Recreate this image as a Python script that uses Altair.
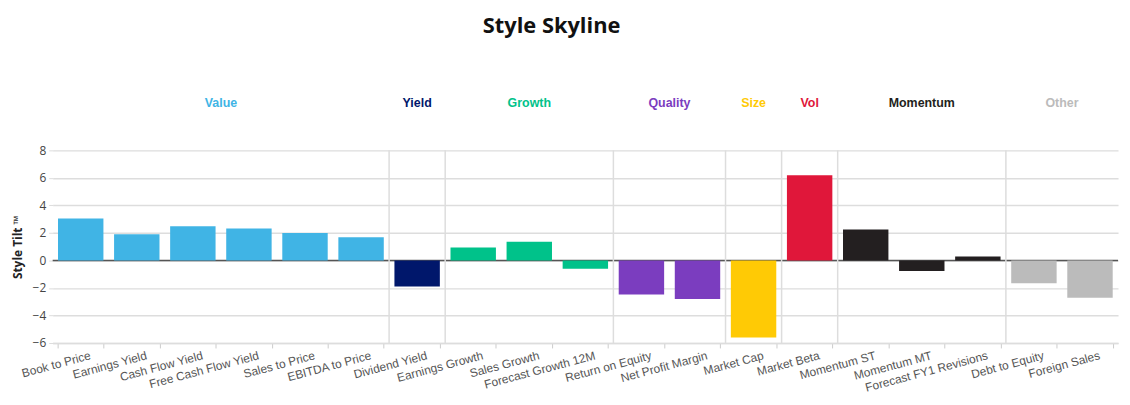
import altair as alt
import pandas as pd

categories = [
    "Book to Price", "Earnings Yield", "Cash Flow Yield", "Free Cash Flow Yield",
    "Sales to Price", "EBITDA to Price", "Dividend Yield", "Earnings Growth",
    "Sales Growth", "Forecast Growth 12M", "Return on Equity", "Net Profit Margin",
    "Market Cap", "Market Beta", "Momentum ST", "Momentum MT",
    "Forecast FY1 Revisions", "Debt to Equity", "Foreign Sales",
]
values = [3.05, 1.9, 2.48, 2.33, 2.0, 1.68, -1.9, 0.94, 1.35, -0.6,
          -2.47, -2.8, -5.6, 6.2, 2.24, -0.77, 0.29, -1.66, -2.71]
groups = ["Value"] * 6 + ["Yield"] + ["Growth"] * 3 + ["Quality"] * 2 + \
         ["Size", "Vol"] + ["Momentum"] * 3 + ["Other"] * 2
group_names = ["Value", "Yield", "Growth", "Quality", "Size", "Vol", "Momentum", "Other"]
group_colors = ["#40B4E5", "#00176B", "#00C28A", "#7B3DBF", "#FFCA05", "#E0173A", "#231F20", "#BBBBBB"]
y_ticks = [-6, -4, -2, 0, 2, 4, 6, 8]

df = pd.DataFrame({"cat": categories, "val": values, "grp": groups})

# group spans (in category units) for separators and labels
starts, ends = [], []
pos = 0
for g in group_names:
    n = groups.count(g)
    starts.append(pos)
    ends.append(pos + n)
    pos += n
gdf = pd.DataFrame({
    "grp": group_names,
    "mid": [(s + e) / 2 for s, e in zip(starts, ends)],
})
sep_df = pd.DataFrame({"b": starts[1:]})

N = len(categories)
W, H = 1073, 194

color_scale = alt.Scale(domain=group_names, range=group_colors)
xq = alt.Scale(domain=[0, N], nice=False, zero=False)
y_scale = alt.Scale(domain=[-6, 8], nice=False)
y_axis = alt.Axis(
    values=y_ticks, labelFont="Open Sans", labelFontSize=12,
    labelColor="#444444", tickColor="#dddddd", tickSize=4, labelPadding=3,
    gridColor="#dddddd", gridWidth=1.5, domain=False,
    titleFont="Open Sans", titleFontSize=12, titleFontWeight="bold",
    titleColor="#222222", titleX=-35, titleY=H / 2,
    titleAngle=-90, titleAlign="center", titleBaseline="middle",
)
y_title = "Style Tilt \u2122"

zero_rule = alt.Chart(pd.DataFrame({"z": [0]})).mark_rule(
    color="#555555", strokeWidth=1.5
).encode(y=alt.Y("z:Q", scale=y_scale, axis=y_axis, title=y_title))

bars = alt.Chart(df).mark_bar().encode(
    x=alt.X(
        "cat:N", sort=categories, title=None,
        scale=alt.Scale(paddingInner=0.19, paddingOuter=0.095),
        axis=alt.Axis(
            labelAngle=-15, labelFont="Liberation Sans", labelFontSize=12,
            labelColor="#555555", labelOffset=8, labelPadding=2,
            tickBand="extent", tickColor="#cccccc", tickSize=5,
            domainColor="#dddddd", domainWidth=1.5, grid=False,
        ),
    ),
    y=alt.Y("val:Q", scale=y_scale, axis=y_axis, title=y_title),
    color=alt.Color("grp:N", scale=color_scale, legend=None),
)

seps = alt.Chart(sep_df).mark_rule(color="#dddddd", strokeWidth=1.5).encode(
    x=alt.X("b:Q", scale=xq, axis=None),
)

glabels = alt.Chart(gdf).mark_text(
    font="Liberation Sans", fontSize=12.5, fontWeight="bold", baseline="middle"
).encode(
    x=alt.X("mid:Q", scale=xq, axis=None),
    y=alt.value(-48),
    text="grp:N",
    color=alt.Color("grp:N", scale=color_scale, legend=None),
)

chart = alt.layer(zero_rule, bars, seps, glabels).resolve_scale(
    x="independent"
).properties(
    width=W, height=H,
    title=alt.Title(
        "Style Skyline", font="Open Sans", fontSize=22, fontWeight="bold",
        color="#111111", anchor="middle", frame="group", offset=59, dx=-34,
    ),
    autosize=alt.AutoSizeParams(type="none"),
    padding={"left": 45, "top": 142, "right": 4, "bottom": 53},
).configure_view(stroke=None)

chart.save("out.html", embed_options={"renderer": "svg", "actions": False})
